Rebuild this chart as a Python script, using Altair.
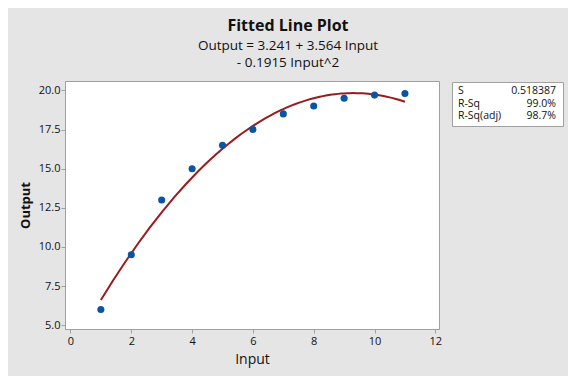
import altair as alt
import pandas as pd

# Data
inputs = [1, 2, 3, 4, 5, 6, 7, 8, 9, 10, 11]
outputs = [6.0, 9.5, 13.0, 15.0, 16.5, 17.5, 18.5, 19.0, 19.5, 19.7, 19.8]

stat_labels = ["S", "R-Sq", "R-Sq(adj)"]
stat_values = ["0.518387", "99.0%", "98.7%"]
stat_rows = [0, 1, 2]

x_ticks = [0, 2, 4, 6, 8, 10, 12]
y_ticks = [5.0, 7.5, 10.0, 12.5, 15.0, 17.5, 20.0]

df = pd.DataFrame({"Input": inputs, "Output": outputs})
stats = pd.DataFrame({"label": stat_labels, "value": stat_values, "row": stat_rows})

FONT = "Open Sans"
TXT = "#111111"
GRID = "#A0A0A0"

xs = alt.Scale(domain=[-0.18, 12.12], nice=False, zero=False)
ys = alt.Scale(domain=[4.76, 20.6], nice=False, zero=False)

x_axis = alt.Axis(values=x_ticks, format="d", title="Input", grid=False,
                  tickSize=4, labelPadding=2, labelFontSize=11, labelColor=TXT,
                  titleFontSize=14, titleFontWeight="normal", titleColor=TXT,
                  titleX=187, titleY=30, titleBaseline="middle",
                  domainColor=GRID, tickColor=GRID)
y_axis = alt.Axis(values=y_ticks, format=".1f", title="Output", grid=False,
                  tickSize=4, labelPadding=1, labelFontSize=11, labelColor=TXT,
                  titleFontSize=13, titleFontWeight="bold", titleColor=TXT,
                  titleX=-40, titleY=124, titleAngle=-90, titleAlign="center",
                  titleBaseline="middle",
                  domainColor=GRID, tickColor=GRID)

base = alt.Chart(df)

points = base.mark_circle(size=50, opacity=1, color="#0A55A3").encode(
    x=alt.X("Input:Q", scale=xs, axis=x_axis),
    y=alt.Y("Output:Q", scale=ys, axis=y_axis),
)

fit = base.transform_regression(
    "Input", "Output", method="poly", order=2
).mark_line(color="#981B1E", strokeWidth=2).encode(
    x=alt.X("Input:Q", scale=xs),
    y=alt.Y("Output:Q", scale=ys),
)

box = alt.Chart(pd.DataFrame({"k": [0]})).mark_rect(
    fill="white", stroke=GRID, strokeWidth=1
).encode(
    x=alt.value(387.5), x2=alt.value(498.5),
    y=alt.value(1.5), y2=alt.value(45.5),
)

row_scale = alt.Scale(domain=[0, 2], range=[10, 35])

stat_lab = alt.Chart(stats).mark_text(
    align="left", baseline="middle", fontSize=10.5, font=FONT, color=TXT
).encode(
    x=alt.value(393),
    y=alt.Y("row:Q", scale=row_scale, axis=None),
    text="label:N",
)
stat_val = alt.Chart(stats).mark_text(
    align="right", baseline="middle", fontSize=10.5, font=FONT, color=TXT
).encode(
    x=alt.value(491),
    y=alt.Y("row:Q", scale=row_scale, axis=None),
    text="value:N",
)

main = alt.layer(fit, points)
side = alt.layer(box, stat_lab, stat_val)

chart = alt.layer(main, side).resolve_scale(y="independent").properties(
    width=374,
    height=248,
    autosize=alt.AutoSizeParams(type="none"),
    padding={"left": 57, "top": 73, "right": 129, "bottom": 47},
    background="#E5E5E5",
    title=alt.TitleParams(
        text="Fitted Line Plot",
        subtitle=["Output = 3.241 + 3.564 Input", "- 0.1915 Input^2"],
        anchor="middle", dx=36, offset=12,
        font=FONT, fontSize=16, fontWeight="bold", color=TXT,
        subtitleFont=FONT, subtitleFontSize=13.5, subtitleColor=TXT,
        subtitleLineHeight=17, subtitlePadding=5,
    ),
).configure_view(
    stroke=GRID, strokeWidth=1, fill="white"
).configure_axis(
    labelFont=FONT, titleFont=FONT
)

chart.save("out.html", embed_options={"renderer": "svg", "actions": False})
